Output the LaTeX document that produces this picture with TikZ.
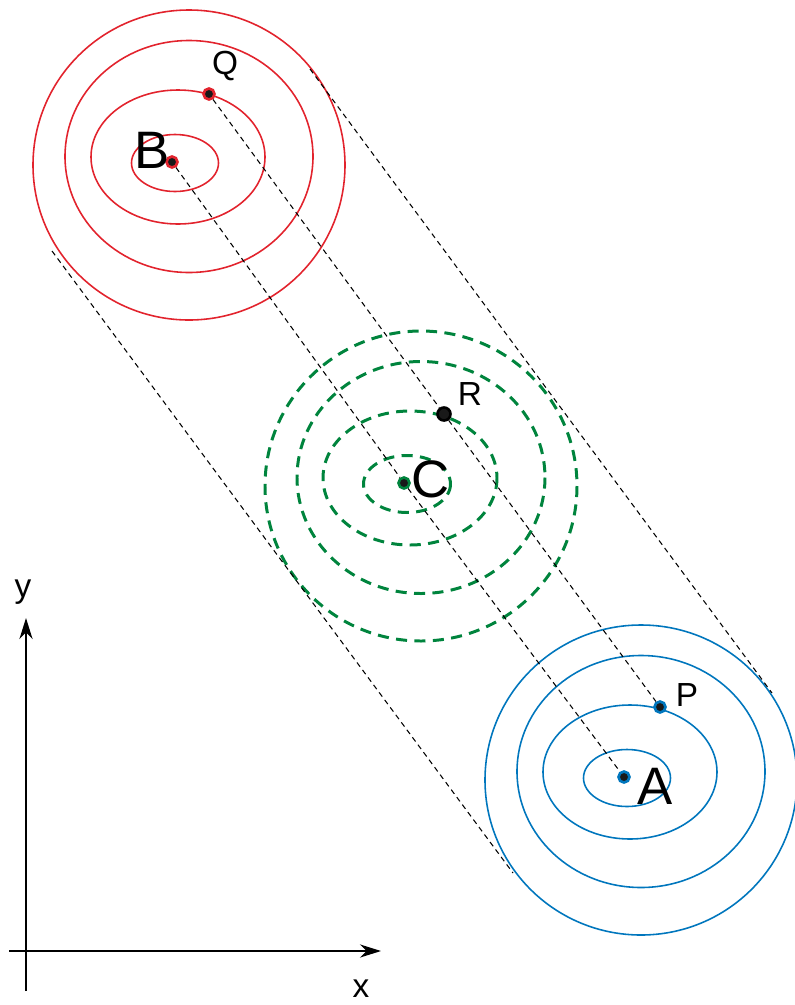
\documentclass[tikz,border=0pt]{standalone}
\usepackage{fontspec}
\setmainfont{Liberation Sans}
\usetikzlibrary{arrows.meta, positioning}

\definecolor{redline}{RGB}{226,35,45}
\definecolor{greenline}{RGB}{0,132,61}
\definecolor{blueline}{RGB}{0,118,189}

% level lines of one field, shifted to a given centre
\newcommand{\levelset}[3]{%
  \foreach \dx/\dy/\rx/\ry in {17/3/156/155, 17/-5.5/124/116, 6/-5/87/67, 3/1/43.5/28.5}
    \draw[contour, #2, #3] ([shift={(\dx,\dy)}]#1) ellipse [x radius=\rx, y radius=\ry];%
}

\begin{document}
\begin{tikzpicture}[
  x=0.02cm, y=-0.02cm,
  >={Stealth[length=12pt, width=7.5pt]},
  contour/.style={line width=0.9pt},
  moved/.style={dash pattern=on 6.3pt off 4.2pt, line width=1.7pt},
  guide/.style={black, dash pattern=on 3pt off 2.3pt, line width=0.6pt},
  spot/.style={circle, fill=black!90, draw=#1, line width=1.5pt, inner sep=0pt, minimum size=0.22cm},
  biglbl/.style={font=\fontsize{30}{32}\selectfont, inner sep=0pt},
  lbl/.style={font=\fontsize{19}{21}\selectfont, inner sep=0pt}
]
  \useasboundingbox (0,0) rectangle (795,1005);

  % centres of the three fields
  \coordinate (cB) at (172,162);
  \coordinate (cC) at (404,483);
  \coordinate (cA) at (624,777);

  % Curvas de nivel
  \levelset{cB}{redline}{}
  \levelset{cC}{greenline}{moved}
  \levelset{cA}{blueline}{}

  % Tangentes exteriores
  \coordinate (t1) at (52,251);
  \coordinate (t2) at (513,873);
  \coordinate (t3) at (310,69);
  \coordinate (t4) at (772,693);
  \draw[guide] (t1) -- (t2);
  \draw[guide] (t3) -- (t4);

  % Puntos
  \node[spot=redline] (B) at (cB) {};
  \node[spot=greenline] (C) at (cC) {};
  \node[spot=blueline] (A) at (cA) {};
  \node[spot=redline] (Q) at (209,94) {};
  \node[spot=black, minimum size=0.26cm] (R) at (444,414) {};
  \node[spot=blueline] (P) at (660,707) {};

  \draw[guide] (B) -- (C) -- (A);
  \draw[guide] (Q) -- (R) -- (P);

  % Etiquetas
  \node[biglbl] (labB) at ([shift={(-20,-12)}]B) {B};
  \node[biglbl] (labC) at ([shift={(27,-4)}]C) {C};
  \node[biglbl] (labA) at ([shift={(31,9)}]A) {A};
  \node[lbl] (labQ) at ([shift={(16,-28)}]Q) {Q};
  \node[lbl] (labR) at ([shift={(26,-20)}]R) {R};
  \node[lbl] (labP) at ([shift={(27,-12)}]P) {P};

  % Ejes
  \coordinate (o) at (26,951);
  \coordinate (xend) at (381,951);
  \coordinate (yend) at (26,618);
  \draw[line width=0.7pt, ->] ([xshift=-0.34cm]o) -- (xend);
  \draw[line width=0.7pt, ->] ([yshift=-0.8cm]o) -- (yend);
  \node[lbl, anchor=base] (labx) at (361,997) {x};
  \node[lbl, anchor=base] (laby) at (23,597) {y};

\end{tikzpicture}
\end{document}
